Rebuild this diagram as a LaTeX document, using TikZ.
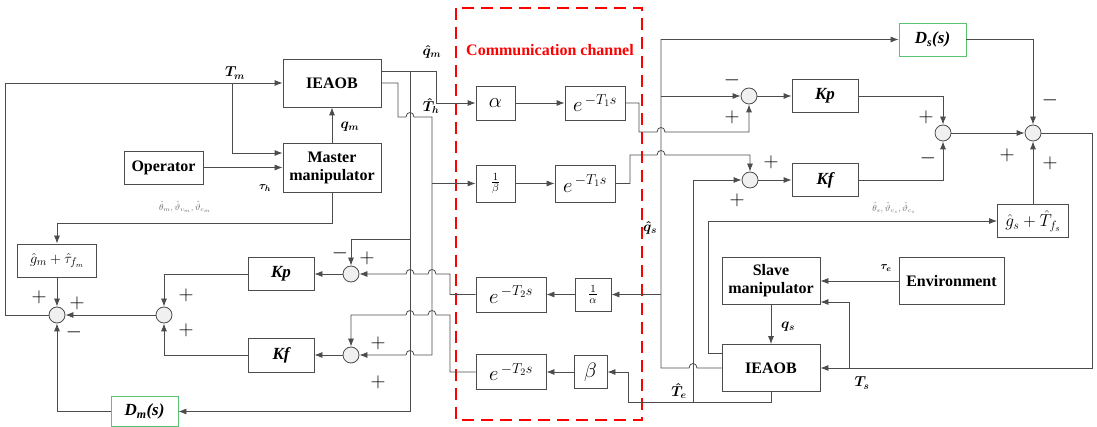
\documentclass[tikz,border=0pt]{standalone}
\usepackage{amsmath}
\usepackage{fontspec}
\setmainfont{Liberation Serif}
\usetikzlibrary{arrows.meta}
\definecolor{dgreen}{RGB}{90,195,115}

\newcommand{\hopR}[2]{-- ({#1-4},#2) .. controls ({#1-4},{#2-6}) and ({#1+4},{#2-6}) .. ({#1+4},#2)}
\newcommand{\hopL}[2]{-- ({#1+4},#2) .. controls ({#1+4},{#2-6}) and ({#1-4},{#2-6}) .. ({#1-4},#2)}

\begin{document}
\begin{tikzpicture}[x=1pt,y=-1pt,line width=0.8pt,color=black!70,
    blk/.style   = {draw,fill=white,text=black,inner sep=1pt,font=\fontsize{16}{18}\selectfont\bfseries},
    kblk/.style  = {blk,font=\fontsize{17}{18}\selectfont\bfseries\itshape},
    dblk/.style  = {kblk,draw=dgreen},
    mblk/.style  = {draw,fill=white,text=black,inner sep=1pt,font=\fontsize{20}{22}\selectfont},
    eblk/.style  = {draw,fill=white,text=black,inner sep=1pt,font=\fontsize{15}{17}\selectfont},
    sumpt/.style = {circle,draw,fill=gray!12,minimum size=16pt,inner sep=0pt},
    sgn/.style   = {text=black,font=\fontsize{20}{20}\selectfont},
    lab/.style   = {text=black,font=\fontsize{14}{14}\selectfont},
    est/.style   = {text=black!60,font=\fontsize{9}{9}\selectfont},
    ->, >={Latex[length=8pt,width=6pt]}
  ]
  \useasboundingbox (0,0) rectangle (1097,427);

  \draw[red,dashed,-,line width=1.6pt,dash pattern=on 12pt off 7pt] (456,8) rectangle (642,420);
  \node[text=red,font=\fontsize{16}{18}\selectfont\bfseries] (cc) at (550,50) {Communication channel};

  % master side
  \node[blk,minimum width=98pt,minimum height=48pt] (obm) at (332,83) {IEAOB};
  \node[blk,minimum width=98pt,minimum height=49pt,align=center] (mst) at (332,167.5) {Master\\manipulator};
  \node[blk,minimum width=79pt,minimum height=33pt] (opr) at (163.5,167.5) {Operator};
  \node[eblk,minimum width=79pt,minimum height=33pt] (gm) at (57,260.5) {$\hat{g}_m+\hat{\tau}_{f_m}$};
  \node[kblk,minimum width=66pt,minimum height=33pt] (kpm) at (281,274) {Kp};
  \node[kblk,minimum width=66pt,minimum height=34pt] (kfm) at (281,355) {Kf};
  \node[dblk,minimum width=67pt,minimum height=30pt] (dm) at (144.5,411.5) {D\textsubscript{m}(s)};
  \node[sumpt] (s1) at (351,274) {};
  \node[sumpt] (s2) at (351,355) {};
  \node[sumpt] (s3) at (164,315) {};
  \node[sumpt] (s0) at (57,315) {};

  % channel
  \node[mblk,minimum width=39pt,minimum height=34pt] (al) at (495.5,103) {$\alpha$};
  \node[mblk,minimum width=60pt,minimum height=34pt] (e1) at (595,103) {$e^{\,-T_1 s}$};
  \node[eblk,minimum width=39pt,minimum height=37pt] (bi) at (495.5,183.5) {$\frac{1}{\beta}$};
  \node[mblk,minimum width=60pt,minimum height=37pt] (e1b) at (585,183.5) {$e^{\,-T_1 s}$};
  \node[mblk,minimum width=70pt,minimum height=35pt] (e2) at (511,294.5) {$e^{\,-T_2 s}$};
  \node[eblk,minimum width=36pt,minimum height=33pt] (ai) at (593,294.5) {$\frac{1}{\alpha}$};
  \node[mblk,minimum width=70pt,minimum height=35pt] (e2b) at (511,372) {$e^{\,-T_2 s}$};
  \node[mblk,minimum width=33pt,minimum height=33pt] (be) at (590.5,372) {$\beta$};

  % slave side
  \node[kblk,minimum width=66pt,minimum height=33pt] (kpr) at (825,96) {Kp};
  \node[kblk,minimum width=66pt,minimum height=33pt] (kfr) at (825,180) {Kf};
  \node[dblk,minimum width=67pt,minimum height=33pt] (ds) at (932.5,39.5) {D\textsubscript{s}(s)};
  \node[sumpt] (sr1) at (749,96) {};
  \node[sumpt] (sr2) at (750,180) {};
  \node[sumpt] (sr3) at (943,133) {};
  \node[sumpt] (sr4) at (1033,133) {};
  \node[mblk,font=\fontsize{18}{20}\selectfont,minimum width=71pt,minimum height=33pt] (gs) at (1033,221) {$\hat{g}_s+\hat{T}_{f_s}$};
  \node[blk,minimum width=98pt,minimum height=47pt,align=center] (slv) at (771,281) {Slave\\manipulator};
  \node[blk,minimum width=105pt,minimum height=47pt] (env) at (951.5,281) {Environment};
  \node[blk,minimum width=98pt,minimum height=47pt] (obs) at (771,368) {IEAOB};

  % master wires
  \draw (s0) -- (5,315) -- (5,83) -- (obm);
  \draw (232,83) -- (232,153) -- (mst.west |- 0,153);
  \draw (opr) -- (mst);
  \draw (mst) -- (obm);
  \draw (mst) -- (332,223) -- (57,223) -- (gm);
  \draw (gm) -- (s0);
  \draw (s3) -- (s0);
  \draw (dm) -- (57,411.5) -- (s0);
  \draw (kpm) -- (164,274) -- (s3);
  \draw (kfm) -- (164,355) -- (s3);
  \draw (s1) -- (kpm);
  \draw (s2) -- (kfm);
  \draw (obm.east |- 0,71) -- (436,71) -- (436,103) -- (al);
  \draw (obm.east) -- (398,83) -- (398,117) \hopR{410}{117} -- (432,117) -- (432,355) \hopL{410}{355} -- (s2);
  \draw (432,183.5) -- (bi);
  \draw (410,71) -- (410,411.5) -- (dm);
  \draw (410,239) -- (351,239) -- (s1);

  % channel wires
  \draw (al) -- (e1);
  \draw (bi) -- (e1b);
  \draw (ai) -- (e2);
  \draw (be) -- (e2b);
  \draw (e1) -- (639,103) -- (639,132) \hopR{661}{132} -- (749,132) -- (sr1);
  \draw (e1b) -- (630,183.5) -- (630,155) \hopR{661}{155} -- (750,155) -- (sr2);
  \draw (e2) -- (450,294.5) -- (450,274) \hopL{432}{274} \hopL{410}{274} -- (s1);
  \draw (e2b) -- (450,372) -- (450,315) \hopL{432}{315} \hopL{410}{315} -- (351,315) -- (s2);

  % slave wires
  \draw (obs) \hopL{693}{368} -- (661,368) -- (661,39.5) -- (ds);
  \draw (661,96) -- (sr1);
  \draw (661,294.5) -- (ai);
  \draw (obs) -- (771,402) -- (628,402) -- (628,372) -- (be);
  \draw (693,402) -- (693,180) -- (sr2);
  \draw (obs.west |- 0,353) -- (708,353) -- (708,221) -- (gs);
  \draw (sr1) -- (kpr);
  \draw (sr2) -- (kfr);
  \draw (kpr) -- (943,96) -- (sr3);
  \draw (kfr) -- (943,180) -- (sr3);
  \draw (sr3) -- (sr4);
  \draw (ds) -- (1033,39.5) -- (sr4);
  \draw (gs) -- (sr4);
  \draw (sr4) -- (1092,133) -- (1092,368) -- (obs);
  \draw (849,368) -- (849,302) -- (slv.east |- 0,302);
  \draw (env) -- (slv);
  \draw (slv) -- (obs);

  \foreach \x/\y/\s [count=\i] in {340/253/-, 367/258/+, 378/343/+, 378/382/+, 186/295/+, 186/330/+,
      39/297/+, 77/303/+, 74/332/-, 732/80/-, 732/117/+, 771/162/+, 737/200/+,
      926/117/+, 928/158/-, 1050/100/-, 1007/155/+, 1050/163/+}
    \node[sgn] (sg\i) at (\x,\y) {$\s$};

  \node[lab] (ltm) at (235,73) {$\boldsymbol{T_m}$};
  \node[lab] (lqm) at (350,127) {$\boldsymbol{q_m}$};
  \node[lab,font=\fontsize{11}{11}\selectfont] (lth) at (265,188) {$\boldsymbol{\tau_h}$};
  \node[est] (lem) at (185,207) {$\hat{\theta}_m,\hat{\vartheta}_{v_m},\hat{\vartheta}_{c_m}$};
  \node[lab] (lqhm) at (432,52) {$\boldsymbol{\hat{q}_m}$};
  \node[lab] (lthh) at (431,106) {$\boldsymbol{\hat{T}_h}$};
  \node[lab] (lqhs) at (650,228) {$\boldsymbol{\hat{q}_s}$};
  \node[lab] (lteh) at (679,391) {$\boldsymbol{\hat{T}_e}$};
  \node[lab] (lts) at (862,383) {$\boldsymbol{T_s}$};
  \node[lab,font=\fontsize{11}{11}\selectfont] (lte) at (886,268) {$\boldsymbol{\tau_e}$};
  \node[lab] (lqs) at (788,327) {$\boldsymbol{q_s}$};
  \node[est] (les) at (894,208) {$\hat{\theta}_s,\hat{\vartheta}_{v_s},\hat{\vartheta}_{c_s}$};
\end{tikzpicture}
\end{document}
